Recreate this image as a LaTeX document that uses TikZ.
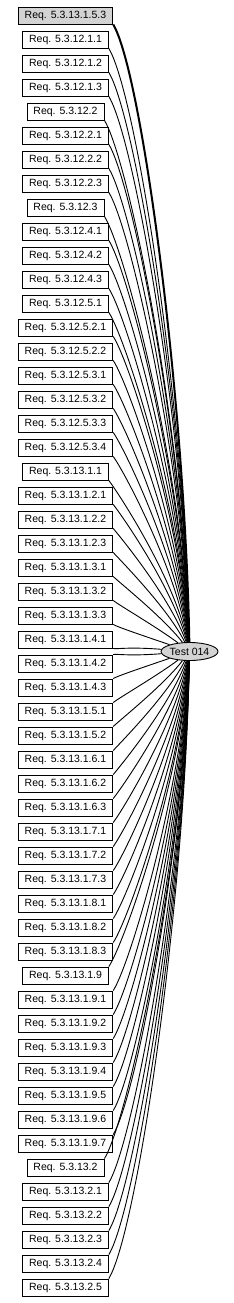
\documentclass[tikz,border=0pt]{standalone}
\usepackage{fontspec}
\setmainfont{Liberation Sans}
\usetikzlibrary{shapes.geometric,calc}
\definecolor{gvgray}{RGB}{211,211,211}
\begin{document}
\begin{tikzpicture}[x=1pt,y=-1pt,
  reqbox/.style={draw=black,line width=0.9pt,minimum height=17pt,inner xsep=6.5pt,inner ysep=0pt,font=\fontsize{10.5pt}{12pt}\selectfont},
  testell/.style={ellipse,draw=black,line width=0.9pt,fill=gvgray,minimum width=57pt,minimum height=18pt,inner sep=0pt,font=\fontsize{10.5pt}{12pt}\selectfont},
  link/.style={draw=black}]
\useasboundingbox (0,0) rectangle (233,1303);
\node[testell] (t) at (189.5,651.5) {Test 014};
\foreach \lab [count=\i] in {5.3.13.1.5.3, 5.3.12.1.1, 5.3.12.1.2, 5.3.12.1.3, 5.3.12.2, 5.3.12.2.1, 5.3.12.2.2, 5.3.12.2.3, 5.3.12.3, 5.3.12.4.1, 5.3.12.4.2, 5.3.12.4.3, 5.3.12.5.1, 5.3.12.5.2.1, 5.3.12.5.2.2, 5.3.12.5.3.1, 5.3.12.5.3.2, 5.3.12.5.3.3, 5.3.12.5.3.4, 5.3.13.1.1, 5.3.13.1.2.1, 5.3.13.1.2.2, 5.3.13.1.2.3, 5.3.13.1.3.1, 5.3.13.1.3.2, 5.3.13.1.3.3, 5.3.13.1.4.1, 5.3.13.1.4.2, 5.3.13.1.4.3, 5.3.13.1.5.1, 5.3.13.1.5.2, 5.3.13.1.6.1, 5.3.13.1.6.2, 5.3.13.1.6.3, 5.3.13.1.7.1, 5.3.13.1.7.2, 5.3.13.1.7.3, 5.3.13.1.8.1, 5.3.13.1.8.2, 5.3.13.1.8.3, 5.3.13.1.9, 5.3.13.1.9.1, 5.3.13.1.9.2, 5.3.13.1.9.3, 5.3.13.1.9.4, 5.3.13.1.9.5, 5.3.13.1.9.6, 5.3.13.1.9.7, 5.3.13.2, 5.3.13.2.1, 5.3.13.2.2, 5.3.13.2.3, 5.3.13.2.4, 5.3.13.2.5} {
  \pgfmathsetmacro{\yc}{15.5+24*(\i-1)}
  \ifnum\i=1 \def\boxfill{gvgray}\else\def\boxfill{white}\fi
  \node[reqbox,fill=\boxfill] (b\i) at (65.5,\yc) {Req. \lab};
}
\foreach \i in {1,...,54} {
  \pgfmathsetmacro{\yc}{15.5+24*(\i-1)}
  \pgfmathsetmacro{\D}{abs(651.5-\yc)}
  \pgfmathsetmacro{\w}{1/(1+\D/40)}
  \pgfmathsetmacro{\ax}{0.04*\D+3}
  \pgfmathsetmacro{\ay}{0.075*\D}
  \pgfmathsetmacro{\cx}{189.5-80*\w}
  \ifnum\i=1 \def\lw{2pt}\else\def\lw{0.9pt}\fi
  \ifnum\i<28
    \pgfmathsetmacro{\cy}{651.5-0.4*\D}
    \draw[link,line width=\lw] (b\i.south east) .. controls ($(b\i.south east)+(\ax,\ay)$) and (\cx,\cy) .. (t);
  \else
    \pgfmathsetmacro{\cy}{651.5+0.4*\D}
    \draw[link,line width=\lw] (b\i.north east) .. controls ($(b\i.north east)+(\ax,-\ay)$) and (\cx,\cy) .. (t);
  \fi
}
\end{tikzpicture}
\end{document}
